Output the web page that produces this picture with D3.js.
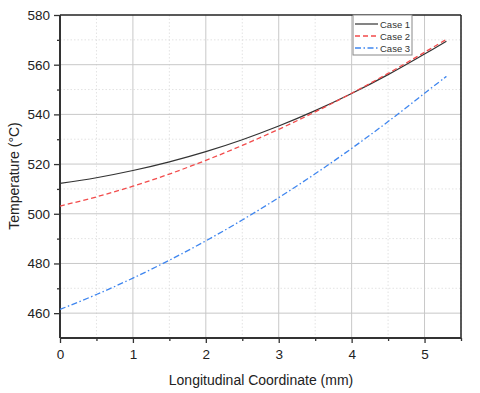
<!DOCTYPE html>
<html><head><meta charset="utf-8">
<script src="https://cdn.jsdelivr.net/npm/d3@7"></script>
<style>body{margin:0;background:#fff}svg{display:block;font-family:"Liberation Sans",Arial,sans-serif}</style>
</head><body><svg id="c" width="480" height="393"></svg>
<script>
const xs = [0, 0.5, 1, 1.5, 2, 2.5, 3, 3.5, 4, 4.5, 5, 5.3];
const case1 = [512.2, 514.5, 517.4, 520.9, 525.0, 529.8, 535.3, 541.5, 548.4, 556.0, 564.3, 569.4];
const case2 = [503.1, 506.8, 511.1, 516.0, 521.5, 527.5, 534.0, 541.0, 548.5, 556.5, 565.0, 570.2];
const case3 = [461.5, 467.5, 474.1, 481.3, 489.1, 497.5, 506.5, 516.1, 526.3, 537.1, 548.5, 555.3];
const seriesNames = ["Case 1", "Case 2", "Case 3"];
const xTicks = [0, 1, 2, 3, 4, 5];
const yTicks = [460, 480, 500, 520, 540, 560, 580];

const svg = d3.select("#c");
const L = 60, R = 461, T = 15, B = 338;
const x = d3.scaleLinear().domain([0, 5.5]).range([L, R]);
const y = d3.scaleLinear().domain([450, 580]).range([B, T]);

// grid
const g = svg.append("g");
const xMinor = d3.range(0.5, 5.6, 1);
const yMinor = d3.range(470, 580, 20);
g.selectAll(".vm").data(xMinor).join("line").attr("x1", d => x(d)).attr("x2", d => x(d)).attr("y1", T).attr("y2", B)
  .attr("stroke", "#dcdcdc").attr("stroke-width", 0.8).attr("stroke-dasharray", "1.5,2");
g.selectAll(".hm").data(yMinor).join("line").attr("y1", d => y(d)).attr("y2", d => y(d)).attr("x1", L).attr("x2", R)
  .attr("stroke", "#dcdcdc").attr("stroke-width", 0.8).attr("stroke-dasharray", "1.5,2");
g.selectAll(".vM").data(xTicks.filter(d => d > 0)).join("line").attr("x1", d => x(d)).attr("x2", d => x(d)).attr("y1", T).attr("y2", B)
  .attr("stroke", "#c8c8c8").attr("stroke-width", 1);
g.selectAll(".hM").data(yTicks.filter(d => d < 580)).join("line").attr("y1", d => y(d)).attr("y2", d => y(d)).attr("x1", L).attr("x2", R)
  .attr("stroke", "#c8c8c8").attr("stroke-width", 1);

// frame top/right
svg.append("line").attr("x1", L).attr("x2", R).attr("y1", T).attr("y2", T).attr("stroke", "#222").attr("stroke-width", 1.5);
svg.append("line").attr("x1", R).attr("x2", R).attr("y1", T).attr("y2", B).attr("stroke", "#222").attr("stroke-width", 1.5);

// axes
const xAx = svg.append("g").attr("transform", `translate(0,${B})`)
  .call(d3.axisBottom(x).tickValues(xTicks).tickFormat(d3.format("d")).tickSize(5).tickPadding(6));
const xAxMinor = svg.append("g").attr("transform", `translate(0,${B})`)
  .call(d3.axisBottom(x).tickValues(xMinor).tickFormat("").tickSize(3));
const yAx = svg.append("g").attr("transform", `translate(${L},0)`)
  .call(d3.axisLeft(y).tickValues(yTicks).tickSize(6).tickPadding(4));
const yAxMinor = svg.append("g").attr("transform", `translate(${L},0)`)
  .call(d3.axisLeft(y).tickValues(yMinor).tickFormat("").tickSize(3));
[xAx, xAxMinor, yAx, yAxMinor].forEach(a => {
  a.select(".domain").attr("stroke", "#333").attr("stroke-width", 2);
  a.selectAll(".tick line").attr("stroke", "#333").attr("stroke-width", 1.3);
  a.selectAll("text").attr("font-size", 13.5).attr("fill", "#222").attr("font-family", "Liberation Sans, Arial, sans-serif");
});
xAx.select(".domain").attr("d", `M${L},0H${R}`);
xAxMinor.select(".domain").remove();
yAx.select(".domain").attr("d", `M0,${B}V${T}`);
yAxMinor.select(".domain").remove();

// lines
const styles = [
  {data: case1, color: "#333333", dash: null, w: 1.2},
  {data: case2, color: "#f24b4b", dash: "5,3", w: 1.3},
  {data: case3, color: "#3f86ef", dash: "6,2.5,1.5,2.5", w: 1.3}
];
const line = d3.line().x((d, i) => x(xs[i])).y(d => y(d)).curve(d3.curveCatmullRom);
const lines = svg.append("g");
styles.forEach(s => {
  lines.append("path").attr("d", line(s.data)).attr("fill", "none").attr("stroke", s.color)
    .attr("stroke-width", s.w).attr("stroke-dasharray", s.dash);
});

// legend
const lg = svg.append("g");
lg.append("rect").attr("x", 353).attr("y", T).attr("width", 59).attr("height", 40)
  .attr("fill", "#fff").attr("stroke", "#888").attr("stroke-width", 1);
const ly = [24, 36, 48];
styles.forEach((s, i) => {
  lg.append("line").attr("x1", 355).attr("x2", 378).attr("y1", ly[i]).attr("y2", ly[i])
    .attr("stroke", s.color).attr("stroke-width", s.w).attr("stroke-dasharray", s.dash);
  lg.append("text").attr("x", 380).attr("y", ly[i] + 3.5).attr("font-size", 9.5).attr("fill", "#333").text(seriesNames[i]);
});

// titles
svg.append("text").attr("x", 261).attr("y", 385).attr("text-anchor", "middle").attr("font-size", 14).attr("fill", "#222")
  .text("Longitudinal Coordinate (mm)");
svg.append("text").attr("transform", "translate(19,176) rotate(-90)").attr("text-anchor", "middle").attr("font-size", 14).attr("fill", "#222")
  .text("Temperature (°C)");
</script></body></html>
